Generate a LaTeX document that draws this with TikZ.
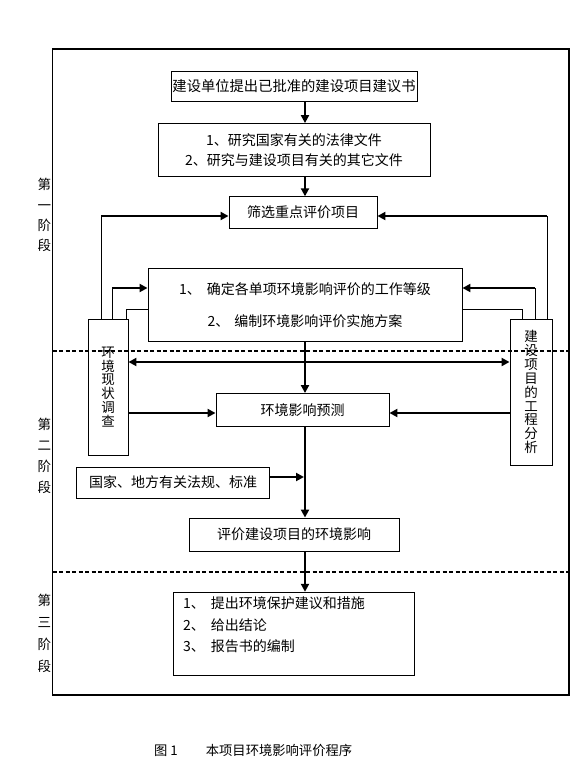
\documentclass[tikz,border=0pt]{standalone}
\usepackage{fontspec}
\setmainfont{Noto Sans CJK SC}
\usetikzlibrary{arrows.meta}
\begin{document}
\begin{tikzpicture}[x=1pt,y=-1pt,
  box/.style={draw,line width=0.9pt,inner sep=0pt,align=center,
    font=\fontsize{14}{20}\selectfont},
  sidebox/.style={draw,line width=0.9pt,inner sep=0pt,align=center,
    font=\fontsize{13.5}{13.9}\selectfont},
  stagetext/.style={inner sep=0pt,align=center},
  tip/.style={-{Triangle[length=8pt,width=8pt]}},
  bigarrow/.style={line width=2.8pt,tip},
  midarrow/.style={line width=2pt,tip},
  hline/.style={line width=2pt},
  vline/.style={line width=0.9pt},
  sepline/.style={line width=1.3pt,dash pattern=on 4pt off 2.5pt},
  frameline/.style={line width=1.1pt}
]
\useasboundingbox (0,0) rectangle (571,761);

% outer frame and stage separators
\draw[frameline] (52.5,49) rectangle (569,695);
\draw[sepline] (52.5,351) -- (571,351);
\draw[sepline] (52.5,572) -- (571,572);

% stage labels
\node[stagetext,font=\fontsize{13.5}{20.2}\selectfont] (s1) at (44.5,215) {第\\一\\阶\\段};
\node[stagetext,font=\fontsize{13.5}{20.8}\selectfont] (s2) at (44.5,456) {第\\二\\阶\\段};
\node[stagetext,font=\fontsize{13.5}{22}\selectfont] (s3) at (44.5,633) {第\\三\\阶\\段};

% boxes
\node[box,minimum width=246pt,minimum height=30.5pt,font=\fontsize{14.3}{20}\selectfont] (b1) at (294,86.3) {建设单位提出已批准的建设项目建议书};
\node[box,minimum width=272pt,minimum height=52.5pt] (b2) at (294,149.8) {1、研究国家有关的法律文件\\2、研究与建设项目有关的其它文件};
\node[box,minimum width=148pt,minimum height=31.5pt] (b3) at (303,212.5) {筛选重点评价项目};
\node[box,minimum width=314pt,minimum height=73pt,font=\fontsize{14}{32}\selectfont] (b4) at (305,305) {1、\hspace{6pt}确定各单项环境影响评价的工作等级\\2、\hspace{5pt}编制环境影响评价实施方案};
\node[sidebox,minimum width=40pt,minimum height=136pt] (env) at (108,387) {环\\境\\现\\状\\调\\查};
\node[sidebox,minimum width=42pt,minimum height=146pt] (proj) at (531,392) {建\\设\\项\\目\\的\\工\\程\\分\\析};
\node[box,minimum width=173pt,minimum height=33pt] (b5) at (302.5,410) {环境影响预测};
\node[box,minimum width=192.5pt,minimum height=31pt] (law) at (173,482.5) {国家、地方有关法规、标准};
\node[box,minimum width=210pt,minimum height=33pt] (b6) at (294,534.5) {评价建设项目的环境影响};
\node[box,minimum width=240.5pt,minimum height=83.5pt] (b7) at (294,634) {};
\node[anchor=north west,inner sep=0pt,align=left,font=\fontsize{14}{21.5}\selectfont] (b7text) at (183,596.5)
  {1、\hspace{6pt}提出环境保护建议和措施\\2、\hspace{6pt}给出结论\\3、\hspace{6pt}报告书的编制};

% caption
\node[anchor=west,inner sep=0pt,font=\fontsize{13.3}{16}\selectfont] (cap) at (154,750)
  {图 1\hspace{28pt}本项目环境影响评价程序};

% bend points
\coordinate (mx) at (305,0);
\coordinate (L1) at (101,216);
\coordinate (R1) at (547,216);
\coordinate (L2) at (112,288);
\coordinate (R2) at (535,288);
\coordinate (L3) at (126,309);
\coordinate (R3) at (522,309);
\coordinate (mid) at (305,362);
\coordinate (side) at (305,413);
\coordinate (J) at (305,477);

% main spine
\draw[bigarrow] (b1.south -| mx) -- (b2.north -| mx);
\draw[bigarrow] (b2.south -| mx) -- (b3.north -| mx);
\draw[bigarrow] (b4.south -| mx) -- (b5.north -| mx);
\draw[bigarrow] (b5.south -| mx) -- (b6.north -| mx);
\draw[bigarrow] (b6.south -| mx) -- (b7.north -| mx);

% feedback to screening box
\draw[vline] (env.north -| L1) -- (L1);
\draw[hline,tip] (L1) -- (b3.west |- L1);
\draw[vline] (proj.north -| R1) -- (R1);
\draw[hline,tip] (R1) -- (b3.east |- R1);

% into work-level box
\draw[vline] (env.north -| L2) -- (L2);
\draw[bigarrow] (L2) -- (b4.west |- L2);
\draw[vline] (proj.north -| R2) -- (R2);
\draw[bigarrow] (R2) -- (b4.east |- R2);
\draw[vline] (env.north -| L3) -- (L3) -- (b4.west |- L3);
\draw[vline] (proj.north -| R3) -- (R3) -- (b4.east |- R3);

% mutual arrow between side boxes
\draw[line width=2.8pt,{Triangle[length=8pt,width=8pt]}-{Triangle[length=8pt,width=8pt]}] (env.east |- mid) -- (proj.west |- mid);

% into prediction box
\draw[bigarrow] (env.east |- side) -- (b5.west |- side);
\draw[bigarrow] (proj.west |- side) -- (b5.east |- side);

% regulations into spine
\draw[midarrow] (law.east |- J) -- ([xshift=-1pt]J);
\end{tikzpicture}
\end{document}
